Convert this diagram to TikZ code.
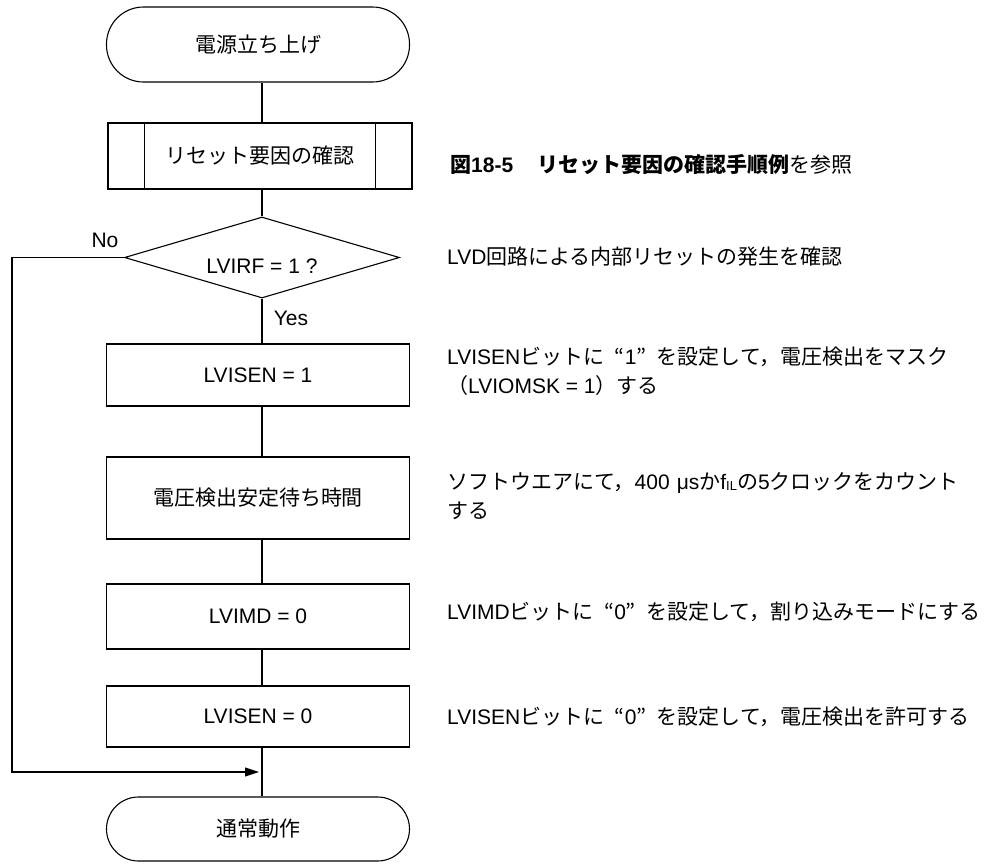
\documentclass[tikz,border=0pt]{standalone}
\usepackage{fontspec}
\setmainfont{Liberation Sans}
\newfontfamily\jp{Noto Sans CJK JP}
\usetikzlibrary{arrows.meta,shapes.geometric}
\newcommand{\oq}{\hspace{0.5em}{\jp “}}
\newcommand{\cq}{{\jp ”}\hspace{0.5em}}
\tikzset{
 base/.style={draw, line width=1.1pt, inner sep=0pt, font=\fontsize{21}{29}\selectfont},
 term/.style={base, rounded corners=37pt, minimum width=303pt, minimum height=75pt},
 proc/.style={base, rectangle, minimum width=303pt},
 cond/.style={base, diamond, aspect=3.4, minimum width=275pt, minimum height=81pt},
 note/.style={anchor=west, align=left, inner sep=0pt, font=\fontsize{21}{29}\selectfont},
 lbl/.style={inner sep=0pt, font=\fontsize{21}{24}\selectfont},
 flow/.style={line width=1.1pt},
 arrowflow/.style={flow, -{Triangle[length=14pt,width=9pt]}},
 low/.style={text height=32pt, text depth=0pt},
}
\begin{document}
\begin{tikzpicture}[x=1pt,y=-1pt]
\useasboundingbox (0,0) rectangle (994,863);
% shapes
\node[term] (start) at (258,44.5) {{\jp 電源立ち上げ}};
\node[proc, minimum width=304pt, minimum height=66pt] (sub) at (260,156) {{\jp リセット要因の確認}};
\node[cond, low] (dia) at (262,257.5) {LVIRF = 1 ?};
\node[proc, minimum height=62pt] (b1) at (258,375) {LVISEN = 1};
\node[proc, minimum height=82pt] (b2) at (258,498) {{\jp 電圧検出安定待ち時間}};
\node[proc, minimum height=65pt] (b3) at (258,616.5) {LVIMD = 0};
\node[proc, minimum height=61pt] (b4) at (258,716.5) {LVISEN = 0};
\node[term, rounded corners=32pt, minimum height=64pt] (stop) at (258,829) {{\jp 通常動作}};
% subroutine side bars
\draw[flow] ([xshift=37pt]sub.north west) -- ([xshift=37pt]sub.south west);
\draw[flow] ([xshift=-37pt]sub.north east) -- ([xshift=-37pt]sub.south east);
% connectors
\draw[flow] (start.south -| dia.center) -- (sub.north -| dia.center);
\draw[flow] (sub.south -| dia.center) -- (dia.north);
\draw[flow] (dia.south) -- (b1.north -| dia.center);
\draw[flow] (b1.south -| dia.center) -- (b2.north -| dia.center);
\draw[flow] (b2.south -| dia.center) -- (b3.north -| dia.center);
\draw[flow] (b3.south -| dia.center) -- (b4.north -| dia.center);
\draw[flow] (b4.south -| dia.center) -- (stop.north -| dia.center);
\coordinate (nl) at (12,257.5);
\coordinate (m) at (262,772);
\draw[arrowflow, shorten >=3pt] (dia.west) -- (nl) |- (m);
% labels
\node[lbl] (no) at (105,240) {No};
\node[lbl] (yes) at (291,318) {Yes};
% notes
\node[note] (n0) at (450,165) {{\jp\bfseries 図}\textbf{18-5}\hspace{24pt}{\jp\bfseries リセット要因の確認手順例}{\jp を参照}};
\node[note] (n1) at (447,257) {LVD{\jp 回路による内部リセットの発生を確認}};
\node[note] (n2) at (447,371.5) {LVISEN{\jp ビットに}\oq 1\cq{\jp を設定して，電圧検出をマスク}\\{\jp （}LVIOMSK = 1{\jp ）する}};
\node[note] (n3) at (447,496.5) {{\jp ソフトウエアにて，}400\hspace{7pt}μs{\jp か}f\raisebox{-1pt}{\fontsize{13}{13}\selectfont IL}{\jp の}5{\jp クロックをカウント}\\{\jp する}};
\node[note] (n4) at (447,612) {LVIMD{\jp ビットに}\oq 0\cq{\jp を設定して，割り込みモードにする}};
\node[note] (n5) at (447,717) {LVISEN{\jp ビットに}\oq 0\cq{\jp を設定して，電圧検出を許可する}};
\end{tikzpicture}
\end{document}
